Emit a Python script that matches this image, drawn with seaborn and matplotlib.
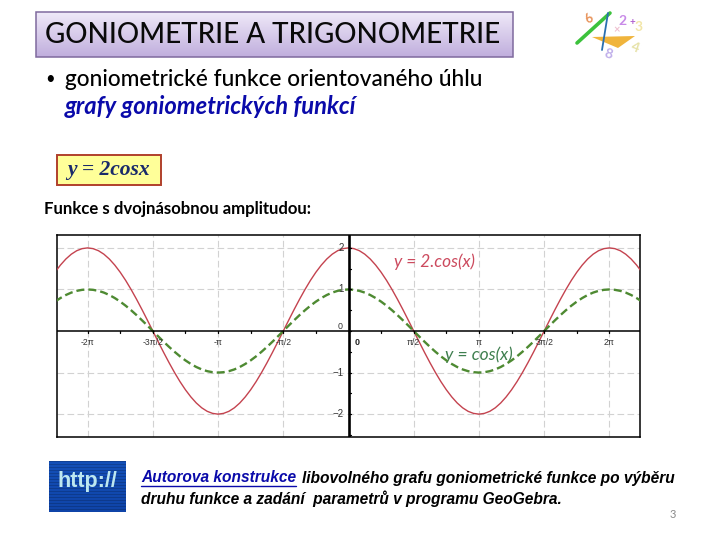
import numpy as np
import pandas as pd
import seaborn as sns
import matplotlib
matplotlib.use("Agg")
import matplotlib.pyplot as plt
from matplotlib.patches import Rectangle, Polygon

# Values: angle in degrees, every 7.5 degrees
angle_deg = [-405, -397.5, -390, -382.5, -375, -367.5,
             -360, -352.5, -345, -337.5, -330, -322.5, -315, -307.5, -300, -292.5, -285, -277.5,
             -270, -262.5, -255, -247.5, -240, -232.5, -225, -217.5, -210, -202.5, -195, -187.5,
             -180, -172.5, -165, -157.5, -150, -142.5, -135, -127.5, -120, -112.5, -105, -97.5,
             -90, -82.5, -75, -67.5, -60, -52.5, -45, -37.5, -30, -22.5, -15, -7.5,
             0, 7.5, 15, 22.5, 30, 37.5, 45, 52.5, 60, 67.5, 75, 82.5,
             90, 97.5, 105, 112.5, 120, 127.5, 135, 142.5, 150, 157.5, 165, 172.5,
             180, 187.5, 195, 202.5, 210, 217.5, 225, 232.5, 240, 247.5, 255, 262.5,
             270, 277.5, 285, 292.5, 300, 307.5, 315, 322.5, 330, 337.5, 345, 352.5,
             360, 367.5, 375, 382.5, 390, 397.5, 405]
cos_one = [0.707, 0.793, 0.866, 0.924, 0.966, 0.991,
           1.0, 0.991, 0.966, 0.924, 0.866, 0.793, 0.707, 0.609, 0.5, 0.383, 0.259, 0.131,
           0.0, -0.131, -0.259, -0.383, -0.5, -0.609, -0.707, -0.793, -0.866, -0.924, -0.966, -0.991,
           -1.0, -0.991, -0.966, -0.924, -0.866, -0.793, -0.707, -0.609, -0.5, -0.383, -0.259, -0.131,
           0.0, 0.131, 0.259, 0.383, 0.5, 0.609, 0.707, 0.793, 0.866, 0.924, 0.966, 0.991,
           1.0, 0.991, 0.966, 0.924, 0.866, 0.793, 0.707, 0.609, 0.5, 0.383, 0.259, 0.131,
           0.0, -0.131, -0.259, -0.383, -0.5, -0.609, -0.707, -0.793, -0.866, -0.924, -0.966, -0.991,
           -1.0, -0.991, -0.966, -0.924, -0.866, -0.793, -0.707, -0.609, -0.5, -0.383, -0.259, -0.131,
           0.0, 0.131, 0.259, 0.383, 0.5, 0.609, 0.707, 0.793, 0.866, 0.924, 0.966, 0.991,
           1.0, 0.991, 0.966, 0.924, 0.866, 0.793, 0.707]
cos_two = [1.414, 1.586, 1.732, 1.848, 1.932, 1.982,
           2.0, 1.982, 1.932, 1.848, 1.732, 1.586, 1.414, 1.218, 1.0, 0.765, 0.518, 0.261,
           0.0, -0.261, -0.518, -0.765, -1.0, -1.218, -1.414, -1.586, -1.732, -1.848, -1.932, -1.982,
           -2.0, -1.982, -1.932, -1.848, -1.732, -1.586, -1.414, -1.218, -1.0, -0.765, -0.518, -0.261,
           0.0, 0.261, 0.518, 0.765, 1.0, 1.218, 1.414, 1.586, 1.732, 1.848, 1.932, 1.982,
           2.0, 1.982, 1.932, 1.848, 1.732, 1.586, 1.414, 1.218, 1.0, 0.765, 0.518, 0.261,
           0.0, -0.261, -0.518, -0.765, -1.0, -1.218, -1.414, -1.586, -1.732, -1.848, -1.932, -1.982,
           -2.0, -1.982, -1.932, -1.848, -1.732, -1.586, -1.414, -1.218, -1.0, -0.765, -0.518, -0.261,
           0.0, 0.261, 0.518, 0.765, 1.0, 1.218, 1.414, 1.586, 1.732, 1.848, 1.932, 1.982,
           2.0, 1.982, 1.932, 1.848, 1.732, 1.586, 1.414]
x_tick_deg = [-360, -270, -180, -90, 90, 180, 270, 360]
x_tick_labels = ['-2π', '-3π/2', '-π', '-π/2', 'π/2', 'π', '3π/2', '2π']
y_ticks = [-2, -1, 1, 2]
y_tick_labels = ['−2', '−1', '1', '2']

sns.set_theme(style="white")
fig = plt.figure(figsize=(7.2, 5.4), dpi=100, facecolor='white')

# ---- chart ----
ax = fig.add_axes([57/720, (540-437)/540, 583/720, 202/540])
df = pd.DataFrame({'x': np.radians(angle_deg), 'a': cos_one, 'b': cos_two})
sns.lineplot(data=df, x='x', y='b', ax=ax, color='#C4434F', lw=1.0, legend=False, zorder=3)
sns.lineplot(data=df, x='x', y='a', ax=ax, color='#4E8A32', lw=1.7, legend=False, zorder=4,
             linestyle=(0, (3.4, 1.7)))
ax.set_xlim(-7.02, 7.02)
ax.set_ylim(-2.55, 2.31)
ax.set_xlabel(''); ax.set_ylabel('')
xt = np.radians(x_tick_deg)
ax.set_xticks(xt); ax.set_yticks(y_ticks)
ax.set_xticklabels([]); ax.set_yticklabels([])
ax.tick_params(length=0)
ax.grid(True, color='#D2D2D2', lw=0.8, linestyle=(0, (6, 3)))
for s in ax.spines.values():
    s.set_color('black'); s.set_linewidth(1.1)
ax.axhline(0, color='black', lw=1.1, zorder=5)
ax.axvline(0, color='black', lw=1.9, zorder=5)
for q in np.radians(np.arange(-405, 406, 45)):
    ax.plot([q, q], [0, -0.05], color='black', lw=0.9, zorder=5, clip_on=True)
for v in np.arange(-2.5, 2.5, 0.5):
    ax.plot([0, 0.05], [v, v], color='black', lw=0.9, zorder=5)
for p, lab in zip(xt, x_tick_labels):
    ax.text(p, -0.27, lab, ha='center', va='center', fontsize=6.2, color='#333333',
            family='Liberation Sans', zorder=6)
ax.text(0.2, -0.27, '0', ha='center', va='center', fontsize=6.4, color='#222222',
        family='Liberation Sans', weight='bold')
ax.text(-0.2, 0.1, '0', ha='center', va='center', fontsize=6.4, color='#333333', family='Liberation Sans')
for v, lab in zip(y_ticks, y_tick_labels):
    ax.text(-0.12, v, lab, ha='right', va='center', fontsize=7, color='#333333',
            family='Liberation Sans', zorder=6)
ax.text(1.1, 1.67, 'y = 2.cos(x)', color='#CC4A5E', fontsize=12.4, style='italic', family='Lato', va='center')
ax.text(2.32, -0.56, 'y = cos(x)', color='#3F7F4F', fontsize=12.5, style='italic', family='Lato', va='center')

# ---- slide overlay in pixel coordinates ----
ov = fig.add_axes([0, 0, 1, 1], zorder=10)
ov.set_xlim(0, 720); ov.set_ylim(540, 0); ov.axis('off'); ov.patch.set_alpha(0)

def gradient(x0, y0, x1, y1, c0, c1, stripes=False):
    c0 = np.array(matplotlib.colors.to_rgb(c0)); c1 = np.array(matplotlib.colors.to_rgb(c1))
    n = int(y1 - y0)
    t = np.linspace(0, 1, n)[:, None, None]
    img = c0 + (c1 - c0) * t
    if stripes:
        img = img * (1 - 0.18 * (np.arange(n) % 3 == 0))[:, None, None]
    ov.imshow(img, extent=(x0, x1, y1, y0), aspect='auto', zorder=1, interpolation='nearest')

gradient(36, 12, 513, 57, '#EFE9F8', '#C0AEDD')
ov.add_patch(Rectangle((36, 12), 477, 45, fill=False, ec='#7F6A9E', lw=1.1, zorder=2))
ov.text(45, 35, 'GONIOMETRIE A TRIGONOMETRIE', fontsize=20, family='Lato', color='#0A0A0A',
        va='center', ha='left', zorder=3, weight='medium')
ov.text(45, 79, '•', fontsize=12, family='Lato', color='black', va='center')
ov.text(65, 79, 'goniometrické funkce orientovaného úhlu', fontsize=16.3, family='Lato', color='black',
        va='center', weight='medium')
ov.text(65, 107, 'grafy goniometrických funkcí', fontsize=17.1, family='Lato', style='italic', weight='bold',
        color='#0A0AAA', va='center')
ov.add_patch(Rectangle((57, 155), 104, 30, fc='#FFFF99', ec='#B0402C', lw=1.4, zorder=2))
ov.text(67, 170.5, 'y = 2cosx', fontsize=15.5, family='Liberation Serif', weight='bold', style='italic',
        color='#1A2A6A', va='center', zorder=3)
ov.text(44, 209, 'Funkce s dvojnásobnou amplitudou:', fontsize=12.1, family='Lato', weight='bold',
        color='black', va='center')

# http picture
gradient(49, 461, 126, 512, '#1450B8', '#0F44A8', stripes=True)
ov.text(87.5, 481, 'http://', fontsize=15.5, family='Liberation Sans', weight='bold', color='#BDE7F0',
        ha='center', va='center', zorder=3)

# link text
bi = dict(fontsize=11.2, family='Liberation Sans', weight='bold', style='italic', va='center', zorder=3)
ov.text(141, 478, 'Autorova konstrukce', color='#0A0AAA', **bi)
ov.plot([141, 296], [486, 486], color='#0A0AAA', lw=1)
ov.text(302, 478, 'libovolného grafu goniometrické funkce po výběru', color='black', **bi)
ov.text(141, 499, 'druhu funkce a zadání  parametrů v programu GeoGebra.', color='black', **bi)
ov.text(673, 515, '3', fontsize=8, family='Lato', color='#8A8A8A', ha='center', va='center')

# logo
ov.add_patch(Polygon([(592, 37), (635, 36), (618, 48)], fc='#F0B43C', ec='none', zorder=2))
ov.plot([577, 610], [43, 13], color='#3CC23C', lw=2.6, zorder=3)
ov.plot([602, 608], [50, 13], color='#2A6FB0', lw=1.3, zorder=3)
for t, x, y, c, fs, r in [('6', 589, 19, '#E8935A', 9, 35), ('2', 623, 21, '#C88AE8', 10, 0),
                          ('+', 632, 23, '#B060D0', 7, 0), ('3', 639, 27, '#F2E6A8', 10, 0),
                          ('8', 608, 54, '#BFAEEA', 10, -15), ('×', 617, 30, '#EFC0D0', 8, 0),
                          ('4', 635, 48, '#E6E2A8', 10, -20)]:
    ov.text(x, y, t, color=c, fontsize=fs, rotation=r, ha='center', va='center',
            family='Lato', weight='bold', zorder=4)

fig.savefig('out.png', dpi=100)
